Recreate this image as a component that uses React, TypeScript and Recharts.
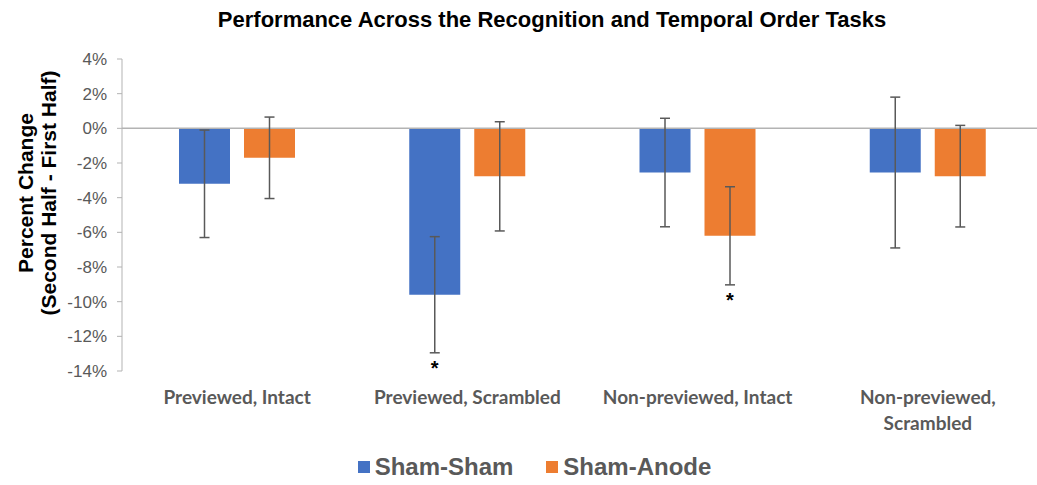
import { BarChart, Bar, XAxis, YAxis, ErrorBar, ReferenceLine, Legend, LabelList } from 'recharts';

const categories = ['Previewed, Intact', 'Previewed, Scrambled', 'Non-previewed, Intact', 'Non-previewed, Scrambled'];
const seriesNames = ['Sham-Sham', 'Sham-Anode'];
const shamSham = [-3.2, -9.6, -2.55, -2.55];
const shamShamErr = [3.1, 3.35, 3.13, 4.35];
const shamShamSig = [false, true, false, false];
const shamAnode = [-1.7, -2.77, -6.2, -2.76];
const shamAnodeErr = [2.35, 3.15, 2.83, 2.93];
const shamAnodeSig = [false, false, true, false];
const yTicks = [4, 2, 0, -2, -4, -6, -8, -10, -12, -14];

const BLUE = '#4472C4';
const ORANGE = '#ED7D31';
const GREY = '#595959';

const data = categories.map((name, i) => ({
  name,
  shamSham: shamSham[i],
  shamShamErr: shamShamErr[i],
  shamAnode: shamAnode[i],
  shamAnodeErr: shamAnodeErr[i],
}));

// long labels wrap after the comma, like the original axis does
function wrapLabel(label: string) {
  if (label.length <= 22) return [label];
  const k = label.indexOf(', ');
  return [label.slice(0, k + 1), label.slice(k + 2)];
}

function CategoryTick(props: any) {
  const { x, y, payload } = props;
  const lines = wrapLabel(payload.value);
  return (
    <text x={x} y={y} textAnchor="middle" fill={GREY} fontFamily="Lato" fontWeight="bold" fontSize={19}>
      {lines.map((ln, i) => (
        <tspan key={i} x={x} dy={i === 0 ? 33 : 26}>{ln}</tspan>
      ))}
    </text>
  );
}

function sigMark(values: number[], errs: number[], sig: boolean[]) {
  return (props: any) => {
    const { x, y, width, height, index } = props;
    if (!sig[index]) return null;
    const v = values[index];
    const bottom = Math.max(y, y + height);
    const pxPerUnit = Math.abs(height) / Math.abs(v);
    const errBottom = bottom + errs[index] * pxPerUnit;
    return (
      <text x={x + width / 2} y={errBottom + 22} textAnchor="middle" fill="#000" fontFamily="Liberation Sans" fontWeight="bold" fontSize={20}>*</text>
    );
  };
}

function LegendContent(props: any) {
  const items = [...(props.payload || [])].sort((a: any, b: any) => seriesNames.indexOf(a.value) - seriesNames.indexOf(b.value));
  return (
    <div style={{ display: 'flex', justifyContent: 'center', alignItems: 'center', fontFamily: 'Liberation Sans', fontWeight: 'bold', fontSize: 24, color: GREY }}>
      {items.map((p: any, i: number) => (
        <div key={i} style={{ display: 'flex', alignItems: 'center', marginLeft: i === 0 ? 0 : 33 }}>
          <span style={{ display: 'inline-block', width: 12, height: 12, background: p.color, marginRight: 5 }} />
          <span>{p.value}</span>
        </div>
      ))}
    </div>
  );
}

function YLabel() {
  return (
    <g fontFamily="Liberation Sans" fontWeight="bold" fontSize={21} fill="#000">
      <text x={25} y={193} textAnchor="middle" dominantBaseline="central" transform="rotate(-90 25 193)">Percent Change</text>
      <text x={48} y={193} textAnchor="middle" dominantBaseline="central" transform="rotate(-90 48 193)">(Second Half - First Half)</text>
    </g>
  );
}

export default function App() {
  return (
    <div style={{ position: 'absolute', left: 0, top: 0, width: 1037, height: 485, overflow: 'hidden', background: '#fff' }}>
      <div style={{ position: 'absolute', left: 52, top: 7, width: 1000, textAlign: 'center', fontFamily: 'Liberation Sans', fontWeight: 'bold', fontSize: 22, lineHeight: '26px', color: '#000' }}>
        Performance Across the Recognition and Temporal Order Tasks
      </div>
      <BarChart width={1043} height={485} data={data} margin={{ top: 59, right: 0, bottom: 0, left: 0 }} barSize={51} barGap={14}>
        <XAxis dataKey="name" height={114} axisLine={false} tickLine={false} tickSize={0} tickMargin={0} tick={<CategoryTick />} interval={0} />
        <YAxis
          width={122}
          domain={[-14, 4]}
          ticks={yTicks}
          interval={0}
          tickFormatter={(v: number) => `${v}%`}
          tick={{ fill: GREY, fontFamily: 'Liberation Sans', fontSize: 17 }}
          tickSize={5}
          tickMargin={10}
          stroke="#b3b3b3"
          label={{ content: () => <YLabel /> }}
        />
        <ReferenceLine y={0} stroke="#b3b3b3" strokeWidth={1.5} />
        <Legend verticalAlign="middle" align="center" layout="horizontal" content={<LegendContent />} wrapperStyle={{ top: 453, left: 16, width: 1037, height: 30 }} />
        <Bar dataKey="shamSham" name="Sham-Sham" fill={BLUE} isAnimationActive={false}>
          <ErrorBar dataKey="shamShamErr" width={5} stroke={GREY} strokeWidth={1.5} direction="y" />
          <LabelList dataKey="shamSham" content={sigMark(shamSham, shamShamErr, shamShamSig)} />
        </Bar>
        <Bar dataKey="shamAnode" name="Sham-Anode" fill={ORANGE} isAnimationActive={false}>
          <ErrorBar dataKey="shamAnodeErr" width={5} stroke={GREY} strokeWidth={1.5} direction="y" />
          <LabelList dataKey="shamAnode" content={sigMark(shamAnode, shamAnodeErr, shamAnodeSig)} />
        </Bar>
      </BarChart>
    </div>
  );
}
